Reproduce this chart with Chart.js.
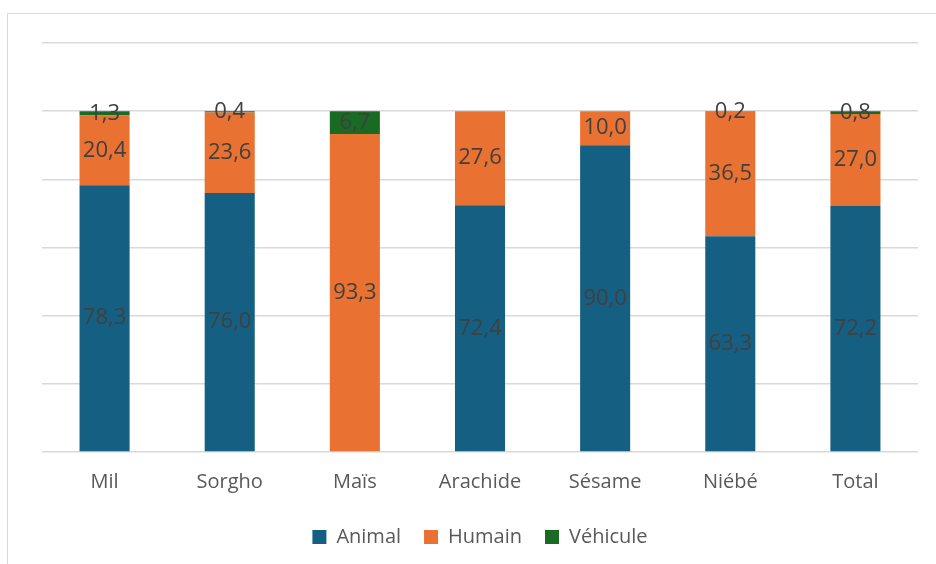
<!DOCTYPE html>
<html>
<head>
<meta charset="utf-8">
<script src="https://cdn.jsdelivr.net/npm/chart.js@4"></script>
<style>
  body { margin: 0; background: #fff; }
  #wrap { position: relative; width: 936px; height: 564px; }
  #frame { position: absolute; left: 7px; top: 13px; width: 940px; height: 560px; border: 1px solid #d9d9d9; box-sizing: border-box; }
  canvas { position: absolute; left: 0; top: 0; }
</style>
</head>
<body>
<div id="wrap">
  <div id="frame"></div>
  <canvas id="chart" width="936" height="564"></canvas>
</div>
<script>
const categories = ['Mil', 'Sorgho', 'Maïs', 'Arachide', 'Sésame', 'Niébé', 'Total'];
const animal = [78.3, 76.0, 0, 72.4, 90.0, 63.3, 72.2];
const humain = [20.4, 23.6, 93.3, 27.6, 10.0, 36.5, 27.0];
const vehicule = [1.3, 0.4, 6.7, 0, 0, 0.2, 0.8];

const fontFamily = '"Open Sans", "Noto Sans", sans-serif';

// étiquettes de valeurs au centre de chaque segment
const valueLabels = {
  id: 'valueLabels',
  afterDatasetsDraw(chart) {
    const ctx = chart.ctx;
    ctx.save();
    ctx.font = '22px ' + fontFamily;
    ctx.fillStyle = '#404040';
    ctx.textAlign = 'center';
    ctx.textBaseline = 'middle';
    chart.data.datasets.forEach((ds, i) => {
      const meta = chart.getDatasetMeta(i);
      meta.data.forEach((bar, j) => {
        const v = ds.data[j];
        if (!v) return;
        const y = (bar.y + bar.base) / 2;
        ctx.fillText(v.toFixed(1).replace('.', ','), bar.x, y);
      });
    });
    ctx.restore();
  }
};

new Chart(document.getElementById('chart'), {
  type: 'bar',
  data: {
    labels: categories,
    datasets: [
      { label: 'Animal', data: animal, backgroundColor: '#156082' },
      { label: 'Humain', data: humain, backgroundColor: '#E97132' },
      { label: 'Véhicule', data: vehicule, backgroundColor: '#196B24' },
    ],
  },
  options: {
    responsive: false,
    animation: false,
    layout: { padding: { left: 42, right: 18, top: 43, bottom: 7 } },
    datasets: { bar: { barPercentage: 0.4, categoryPercentage: 1 } },
    plugins: {
      tooltip: { enabled: false },
      legend: {
        position: 'bottom',
        labels: {
          boxWidth: 14, boxHeight: 14, padding: 23,
          color: '#595959',
          font: { size: 20, family: fontFamily },
        },
      },
    },
    scales: {
      x: {
        stacked: true,
        grid: { display: false },
        border: { display: false },
        ticks: { color: '#595959', font: { size: 20, family: fontFamily }, padding: 10 },
      },
      y: {
        stacked: true,
        min: 0, max: 120,
        ticks: { display: false, stepSize: 20 },
        grid: { color: '#d9d9d9', lineWidth: 1.5, drawTicks: false },
        border: { display: false },
      },
    },
  },
  plugins: [valueLabels],
});
</script>
</body>
</html>
